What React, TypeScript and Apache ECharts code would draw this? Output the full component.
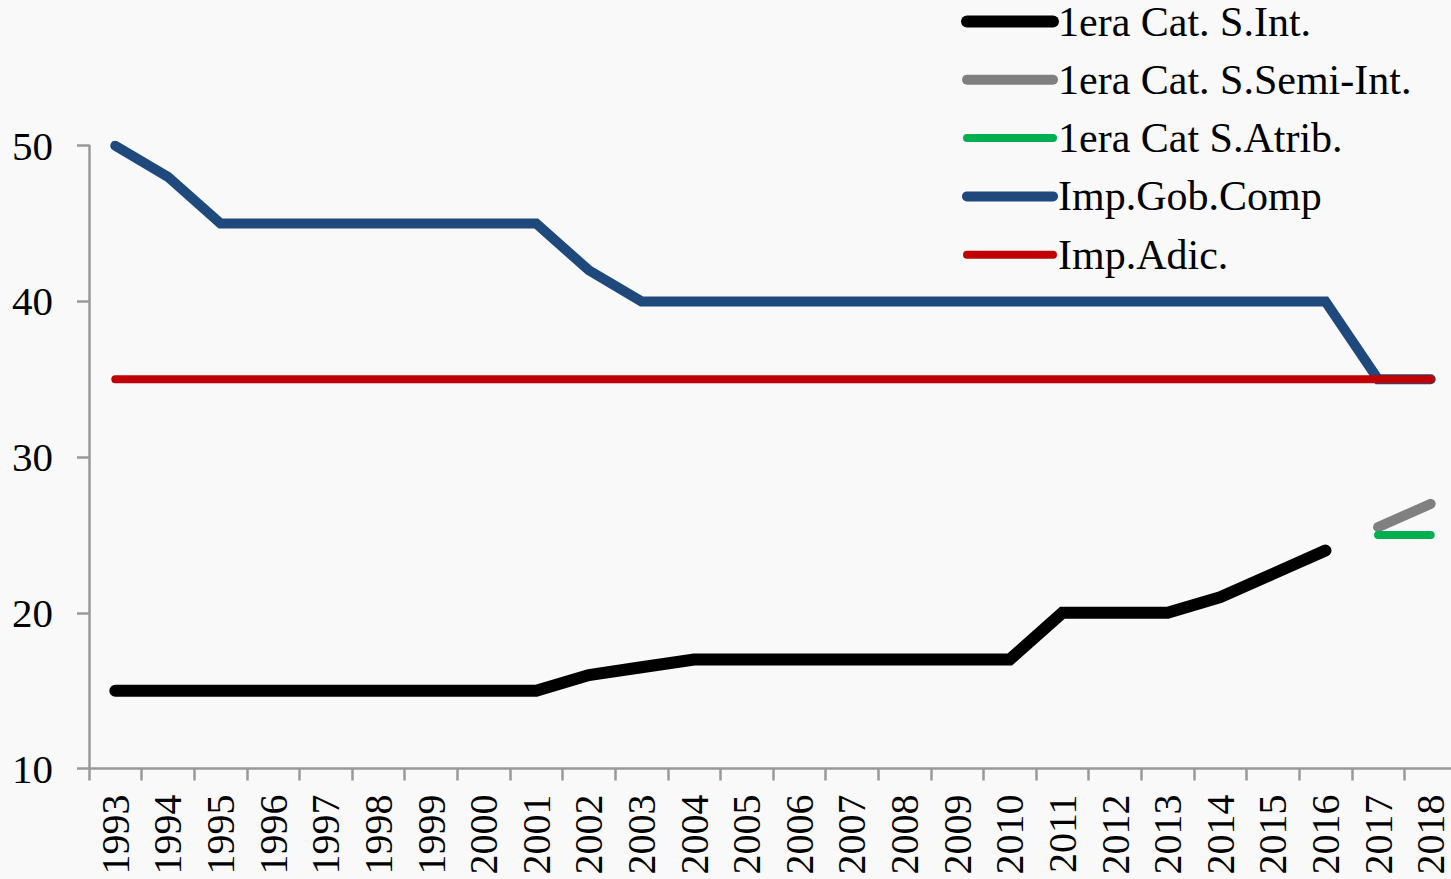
import React, { useEffect, useRef } from "react";
import * as echarts from "echarts";

const years = ["1993","1994","1995","1996","1997","1998","1999","2000","2001","2002","2003","2004","2005","2006","2007","2008","2009","2010","2011","2012","2013","2014","2015","2016","2017","2018"];

const catInt = [15,15,15,15,15,15,15,15,15,16,16.5,17,17,17,17,17,17,17,20,20,20,21,22.5,24,null,null];
const catSemi = [null,null,null,null,null,null,null,null,null,null,null,null,null,null,null,null,null,null,null,null,null,null,null,null,25.5,27];
const catAtrib = [null,null,null,null,null,null,null,null,null,null,null,null,null,null,null,null,null,null,null,null,null,null,null,null,25,25];
const impGob = [50,48,45,45,45,45,45,45,45,42,40,40,40,40,40,40,40,40,40,40,40,40,40,40,35,35];
const impAdic = [35,35,35,35,35,35,35,35,35,35,35,35,35,35,35,35,35,35,35,35,35,35,35,35,35,35];

const seriesDefs = [
  { name: "1era Cat. S.Int.", data: catInt, color: "#000000", width: 12 },
  { name: "1era Cat. S.Semi-Int.", data: catSemi, color: "#808080", width: 10 },
  { name: "1era Cat S.Atrib.", data: catAtrib, color: "#00B050", width: 8 },
  { name: "Imp.Gob.Comp", data: impGob, color: "#1F497D", width: 10 },
  { name: "Imp.Adic.", data: impAdic, color: "#C00000", width: 8 },
];

const FONT = "'Liberation Serif', 'Times New Roman', serif";

export default function App() {
  const ref = useRef<HTMLDivElement>(null);
  useEffect(() => {
    document.body.style.margin = "0";
    const chart = echarts.init(ref.current!, null, { renderer: "svg" });
    chart.setOption({
      animation: false,
      backgroundColor: "#f9f9f9",
      grid: { left: 89, top: 145.7, bottom: 110.5, right: -6, outerBoundsMode: "none", containLabel: false },
      legend: {
        orient: "vertical",
        left: 956,
        top: -5.5,
        itemWidth: 86,
        itemHeight: 14,
        itemGap: 14.3,
        textStyle: { fontSize: 42, fontFamily: FONT, color: "#000", lineHeight: 44 },
        data: seriesDefs.map((s) => ({
          name: s.name,
          itemStyle: { color: "transparent", opacity: 0, borderWidth: 0 },
          lineStyle: { width: s.width, cap: "round", color: s.color },
        })),
      },
      xAxis: {
        type: "category",
        data: years,
        boundaryGap: true,
        axisLine: { lineStyle: { color: "#999", width: 2.5 } },
        axisTick: { show: true, length: 12, lineStyle: { color: "#999", width: 2.5 }, interval: 0 },
        axisLabel: { rotate: 90, interval: 0, fontSize: 40, fontFamily: FONT, color: "#000", margin: 26 },
        splitLine: { show: false },
      },
      yAxis: {
        type: "value",
        min: 10,
        max: 50,
        interval: 10,
        axisLine: { show: true, lineStyle: { color: "#999", width: 2.5 } },
        axisTick: { show: true, length: 12, lineStyle: { color: "#999", width: 2.5 } },
        axisLabel: { fontSize: 41, fontFamily: FONT, color: "#000", margin: 36 },
        splitLine: { show: false },
      },
      series: seriesDefs.map((s) => ({
        name: s.name,
        type: "line",
        data: s.data,
        symbol: "none",
        showSymbol: false,
        connectNulls: false,
        color: s.color,
        lineStyle: { color: s.color, width: s.width, cap: "round", join: "miter" },
        emphasis: { disabled: true },
      })),
    });
    return () => chart.dispose();
  }, []);
  return <div ref={ref} style={{ position: "fixed", left: 0, top: 0, width: 1451, height: 879 }} />;
}
